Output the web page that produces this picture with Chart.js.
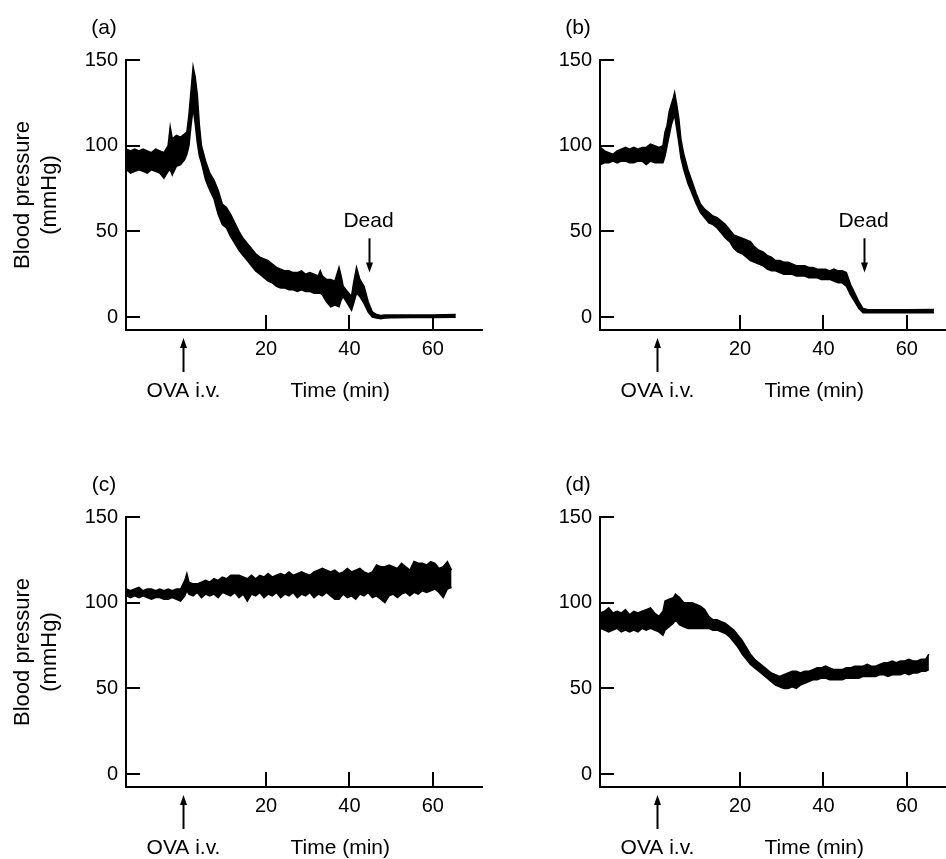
<!DOCTYPE html>
<html>
<head>
<meta charset="utf-8">
<title>Blood pressure after OVA i.v.</title>
<script src="https://cdn.jsdelivr.net/npm/chart.js@4/dist/chart.umd.min.js"></script>
<style>
    body { margin: 0; background: #fff; }
    #wrap { position: relative; width: 946px; height: 859px; background: #fff; }
    canvas { position: absolute; }
</style>
</head>
<body>
<div id="wrap">
    <canvas id="chartA" width="490" height="430" style="left:0;top:0"></canvas>
    <canvas id="chartB" width="473" height="430" style="left:473px;top:0"></canvas>
    <canvas id="chartC" width="490" height="429" style="left:0;top:430px"></canvas>
    <canvas id="chartD" width="473" height="429" style="left:473px;top:430px"></canvas>
</div>
<script>
// ============================================
// Data (min, mmHg) - lower and upper edge of the trace
// ============================================

const yTicks = [0, 50, 100, 150];
const xTicks = [20, 40, 60];

// (a)
const timeA = [-13.5, -12.5, -11.5, -10.5, -9.5, -8.5, -7.5, -6.5, -5.5, -4.5, -3.5, -3, -2.5, -1.5, -0.5, 0.5, 1, 1.5, 2, 2.5,
    3, 3.5, 4, 4.5, 5.5, 6.5, 7.5, 8.5, 9.5, 10.5, 11.5, 12.5, 13.5, 14.5, 15.5, 16.5, 17.5, 18.5, 19.5, 20.5,
    21.5, 22.5, 23.5, 24.5, 25.5, 26.5, 27.5, 28.5, 29.5, 30.5, 31.5, 32.5, 33, 33.5, 34.5, 35.5, 36.5, 37.5, 38, 38.5,
    39.5, 40.5, 41, 41.7, 42.5, 43.5, 44.5, 45.5, 46.5, 47.5, 48.5, 50, 55, 60, 65.5];
const lowA = [86, 84, 85, 86, 85, 84, 86, 85, 84, 81, 85, 86, 83, 88, 89, 92, 95, 100, 112, 122,
    113, 102, 94, 90, 80, 74, 69, 60, 54, 52, 47, 43, 39, 36, 33, 30, 27, 25, 23, 21,
    20, 18, 17, 17, 16, 16, 15, 16, 15, 15, 14, 14, 14, 13, 9, 6, 7, 6, 10, 12,
    8, 4, 8, 14, 12, 8, 3, 0, -0.5, -1, -0.5, -0.3, -0.2, -0.2, 0];
const highA = [98, 97, 98, 97, 98, 97, 96, 98, 97, 96, 100, 111, 104, 106, 105, 107, 108, 118, 132, 146,
    140, 130, 112, 100, 91, 84, 80, 74, 66, 64, 60, 55, 50, 46, 43, 40, 37, 35, 34, 33,
    31, 29, 28, 27, 27, 26, 26, 27, 25, 26, 25, 24, 27, 24, 22, 22, 21, 29, 24, 18,
    15, 12, 20, 29, 22, 18, 9, 3, 1.5, 1, 1.2, 1.2, 1.3, 1.3, 1.5];

// (b)
const timeB = [-13.5, -12.5, -11.5, -10.5, -9.5, -8.5, -7.5, -6.5, -5.5, -4.5, -3.5, -2.5, -1.5, -0.5, 0.5, 1.5, 2, 2.5, 3, 3.5,
    4, 4.3, 4.8, 5.3, 5.8, 6.5, 7.5, 8.5, 9.5, 10.5, 11.5, 12.5, 13.5, 14.5, 15.5, 16.5, 17.5, 18.5, 19.5, 20.5,
    21.5, 22.5, 23.5, 24.5, 25.5, 26.5, 27.5, 28.5, 29.5, 30.5, 31.5, 32.5, 33.5, 34.5, 35.5, 36.5, 37.5, 38.5, 39.5, 40.5,
    41.5, 42.5, 43.5, 44.5, 45.5, 46.5, 47.5, 48.5, 49.5, 50.5, 55, 60, 66.5];
const lowB = [89, 90, 90, 91, 90, 91, 91, 90, 90, 91, 91, 89, 91, 90, 90, 90, 94, 100, 106, 112,
    116, 118, 110, 102, 93, 86, 78, 72, 66, 61, 58, 55, 54, 52, 49, 46, 44, 40, 38, 37,
    35, 33, 32, 31, 30, 28, 27, 27, 26, 25, 25, 25, 24, 24, 24, 23, 23, 23, 22, 22,
    22, 21, 20, 20, 18, 13, 9, 5, 2.5, 2.5, 2.5, 2.5, 2.5];
const highB = [99, 97, 96, 95, 97, 98, 99, 98, 99, 98, 99, 99, 101, 100, 99, 100, 108, 112, 120, 124,
    128, 131, 124, 116, 104, 95, 86, 79, 72, 66, 63, 61, 59, 58, 56, 54, 51, 48, 47, 46,
    45, 44, 41, 39, 38, 36, 35, 33, 33, 32, 32, 31, 30, 30, 30, 29, 29, 28, 28, 28,
    27, 28, 27, 27, 26, 19, 14, 9, 5, 4.5, 4.3, 4.3, 4.5];

// (c)
const timeC = [-13.5, -12.5, -11.5, -10.5, -9.5, -8.5, -7.5, -6.5, -5.5, -4.5, -3.5, -2.5, -1.5, -0.5, 0.5, 1, 1.5, 2.5, 3.5, 4.5,
    5.5, 6.5, 7.5, 8.5, 9.5, 10.5, 11.5, 12.5, 13.5, 14.5, 15.5, 16.5, 17.5, 18.5, 19.5, 20.5, 21.5, 22.5, 23.5, 24.5,
    25.5, 26.5, 27.5, 28.5, 29.5, 30.5, 31.5, 32.5, 33.5, 34.5, 35.5, 36.5, 37.5, 38.5, 39.5, 40.5, 41.5, 42.5, 43.5, 44.5,
    45.5, 46.5, 47.5, 48.5, 49.5, 50.5, 51.5, 52.5, 53.5, 54.5, 55.5, 56.5, 57.5, 58.5, 59.5, 60.5, 61.5, 62.5, 63.5, 64.5];
const lowC = [104, 103, 104, 103, 104, 103, 102, 103, 103, 102, 102, 103, 102, 101, 104, 107, 105, 104, 106, 103,
    105, 104, 105, 103, 106, 105, 104, 106, 103, 105, 101, 105, 104, 106, 103, 105, 104, 106, 103, 105,
    104, 106, 103, 105, 104, 106, 103, 105, 104, 106, 104, 102, 102, 105, 103, 104, 102, 105, 104, 106,
    103, 104, 102, 100, 104, 105, 103, 105, 106, 104, 106, 105, 107, 106, 107, 108, 106, 103, 108, 109];
const highC = [108, 107, 108, 109, 107, 108, 108, 107, 108, 107, 108, 107, 108, 108, 113, 117, 112, 111, 111, 112,
    113, 112, 114, 113, 115, 114, 116, 116, 116, 115, 114, 116, 114, 116, 115, 117, 115, 116, 117, 116,
    118, 116, 117, 118, 117, 116, 118, 119, 120, 119, 118, 119, 117, 118, 120, 118, 119, 120, 118, 117,
    118, 122, 121, 121, 122, 121, 120, 123, 121, 119, 124, 123, 123, 122, 124, 123, 120, 121, 124, 119];

// (d)
const timeD = [-13.5, -12.5, -11.5, -10.5, -9.5, -8.5, -7.5, -6.5, -5.5, -4.5, -3.5, -2.5, -1.5, -0.5, 0.5, 1.5, 2, 3, 4, 4.5,
    5.5, 6.5, 7.5, 8.5, 9.5, 10.5, 11.5, 12.5, 13.5, 14.5, 15.5, 16.5, 17.5, 18.5, 19.5, 20.5, 21.5, 22.5, 23.5, 24.5,
    25.5, 26.5, 27.5, 28.5, 29.5, 30.5, 31.5, 32.5, 33.5, 34.5, 35.5, 36.5, 37.5, 38.5, 39.5, 40.5, 41.5, 42.5, 43.5, 44.5,
    45.5, 46.5, 47.5, 48.5, 49.5, 50.5, 51.5, 52.5, 53.5, 54.5, 55.5, 56.5, 57.5, 58.5, 59.5, 60.5, 61.5, 62.5, 63.5, 64.5, 65.3];
const lowD = [85, 84, 83, 84, 85, 83, 84, 83, 84, 83, 85, 84, 85, 84, 83, 81, 84, 86, 88, 90,
    87, 86, 85, 85, 85, 85, 85, 85, 84, 84, 83, 82, 80, 77, 74, 70, 67, 64, 62, 60,
    58, 56, 54, 52, 51, 50, 50, 51, 50, 52, 53, 54, 55, 55, 56, 56, 55, 55, 55, 55,
    56, 56, 56, 56, 57, 57, 57, 57, 58, 58, 57, 58, 58, 58, 59, 58, 59, 59, 60, 60, 61];
const highD = [94, 95, 97, 94, 95, 94, 96, 93, 95, 94, 95, 96, 97, 94, 92, 95, 101, 102, 103, 105,
    103, 100, 100, 100, 99, 98, 96, 92, 90, 90, 89, 88, 86, 84, 81, 78, 74, 70, 67, 65,
    63, 61, 59, 58, 57, 58, 59, 60, 60, 59, 60, 60, 61, 62, 62, 63, 62, 61, 61, 61,
    62, 62, 63, 63, 63, 64, 63, 63, 64, 65, 65, 66, 65, 66, 66, 67, 66, 66, 67, 67, 70];

// annotation anchors (min)
const ovaTime = 0;
const timeLabelAt = 37.8;
const deadTimeA = 44.8;
const deadTimeB = 49.7;

// ============================================
// Drawing
// ============================================

Chart.defaults.font.family = "'Liberation Sans', Arial, Helvetica, sans-serif";
Chart.defaults.color = '#000';

const FONT_TEXT = "21px 'Liberation Sans', Arial, sans-serif";
const FONT_YTITLE = "22px 'Liberation Sans', Arial, sans-serif";

function toXY(t, v) {
    return t.map((x, i) => ({ x: x, y: v[i] }));
}

function arrow(ctx, x, yFrom, yTo) {
    const dir = yTo > yFrom ? 1 : -1;
    ctx.beginPath();
    ctx.moveTo(x, yFrom);
    ctx.lineTo(x, yTo - dir * 6);
    ctx.stroke();
    ctx.beginPath();
    ctx.moveTo(x, yTo);
    ctx.lineTo(x - 3.5, yTo - dir * 10);
    ctx.lineTo(x + 3.5, yTo - dir * 10);
    ctx.closePath();
    ctx.fill();
}

const decorPlugin = {
    id: 'decor',
    afterDraw(chart) {
        const opt = chart.options.plugins.decor;
        const { ctx, chartArea: area } = chart;
        const xs = chart.scales.x;
        const ys = chart.scales.y;
        ctx.save();
        ctx.strokeStyle = '#000';
        ctx.fillStyle = '#000';
        ctx.lineWidth = 2;

        // inward tick marks
        ys.ticks.forEach(t => {
            const py = Math.round(ys.getPixelForValue(t.value));
            ctx.beginPath();
            ctx.moveTo(area.left, py);
            ctx.lineTo(area.left + 14, py);
            ctx.stroke();
        });
        xs.ticks.forEach(t => {
            const px = Math.round(xs.getPixelForValue(t.value));
            ctx.beginPath();
            ctx.moveTo(px, area.bottom);
            ctx.lineTo(px, area.bottom - 15);
            ctx.stroke();
        });

        // panel letter
        ctx.font = FONT_TEXT;
        ctx.textAlign = 'center';
        ctx.textBaseline = 'middle';
        ctx.fillText(opt.letter, area.left - 22, area.top - 32);

        // OVA arrow + axis captions
        const ox = Math.round(xs.getPixelForValue(ovaTime)) + 0.5;
        arrow(ctx, ox, area.bottom + 42, area.bottom + 8);
        ctx.textBaseline = 'alphabetic';
        ctx.fillText('OVA i.v.', ox, area.bottom + 67);
        ctx.fillText('Time (min)', xs.getPixelForValue(timeLabelAt), area.bottom + 67);

        // "Dead" marker
        if (opt.dead !== null) {
            const dx = Math.round(xs.getPixelForValue(opt.dead)) + 0.5;
            const top = ys.getPixelForValue(46);
            arrow(ctx, dx, top, ys.getPixelForValue(26));
            ctx.fillText('Dead', dx - 1, top - 11);
        }

        // y title
        if (opt.yTitle) {
            const cy = (area.top + area.bottom) / 2;
            ctx.font = FONT_YTITLE;
            ctx.save();
            ctx.translate(29, cy);
            ctx.rotate(-Math.PI / 2);
            ctx.fillText('Blood pressure', 0, 0);
            ctx.restore();
            ctx.save();
            ctx.translate(56, cy);
            ctx.rotate(-Math.PI / 2);
            ctx.fillText('(mmHg)', 0, 0);
            ctx.restore();
        }
        ctx.restore();
    }
};

function makePanel(id, p) {
    return new Chart(document.getElementById(id), {
        type: 'line',
        data: {
            datasets: [
                {
                    data: toXY(p.time, p.low),
                    borderColor: '#000',
                    borderWidth: 1.5,
                    pointRadius: 0,
                    fill: false
                },
                {
                    data: toXY(p.time, p.high),
                    borderColor: '#000',
                    backgroundColor: '#000',
                    borderWidth: 1.5,
                    pointRadius: 0,
                    fill: '-1'
                }
            ]
        },
        options: {
            responsive: false,
            animation: false,
            events: [],
            layout: { padding: { top: p.padTop, right: p.padRight, left: 0, bottom: 0 } },
            plugins: {
                legend: { display: false },
                tooltip: { enabled: false },
                decor: { letter: p.letter, dead: p.dead, yTitle: p.yTitle }
            },
            scales: {
                x: {
                    type: 'linear',
                    min: -13.6,
                    max: p.xMax,
                    z: 1,
                    afterBuildTicks: s => { s.ticks = xTicks.map(v => ({ value: v })); },
                    afterFit: s => { s.height = p.xHeight; },
                    grid: { drawOnChartArea: false, drawTicks: false },
                    border: { display: true, color: '#000', width: 2 },
                    ticks: { font: { size: 20 }, color: '#000', padding: 7, maxRotation: 0 }
                },
                y: {
                    type: 'linear',
                    min: -7.5,
                    max: 150,
                    z: 1,
                    afterBuildTicks: s => { s.ticks = yTicks.map(v => ({ value: v })); },
                    afterFit: s => { s.width = p.yWidth; },
                    grid: { drawOnChartArea: false, drawTicks: false },
                    border: { display: true, color: '#000', width: 2 },
                    ticks: { font: { size: 20 }, color: '#000', padding: 8 }
                }
            }
        },
        plugins: [decorPlugin]
    });
}

makePanel('chartA', { time: timeA, low: lowA, high: highA, letter: '(a)', dead: deadTimeA, yTitle: true,
    padTop: 60, padRight: 8, xMax: 71.8, xHeight: 100, yWidth: 126 });
makePanel('chartB', { time: timeB, low: lowB, high: highB, letter: '(b)', dead: deadTimeB, yTitle: false,
    padTop: 60, padRight: 0, xMax: 69.4, xHeight: 100, yWidth: 127 });
makePanel('chartC', { time: timeC, low: lowC, high: highC, letter: '(c)', dead: null, yTitle: true,
    padTop: 87, padRight: 8, xMax: 71.8, xHeight: 72, yWidth: 126 });
makePanel('chartD', { time: timeD, low: lowD, high: highD, letter: '(d)', dead: null, yTitle: false,
    padTop: 87, padRight: 0, xMax: 69.4, xHeight: 72, yWidth: 127 });
</script>
</body>
</html>
